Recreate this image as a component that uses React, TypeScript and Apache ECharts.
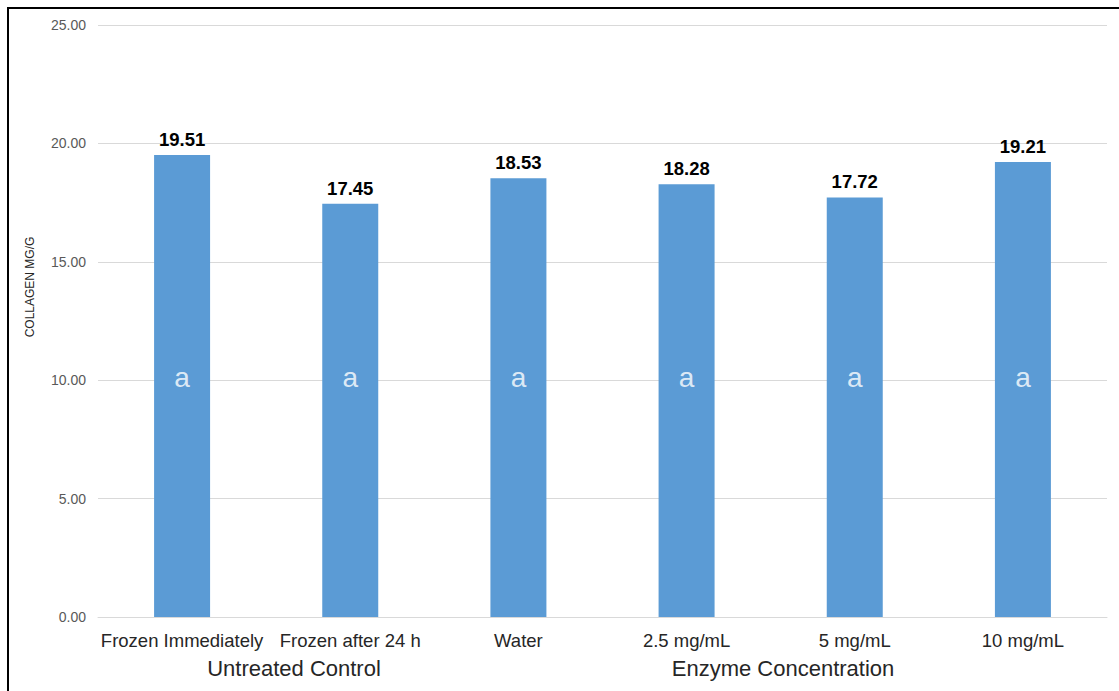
import React, { useEffect, useRef } from "react";
import * as echarts from "echarts";

const categories = [
  "Frozen Immediately",
  "Frozen after 24 h",
  "Water",
  "2.5 mg/mL",
  "5 mg/mL",
  "10 mg/mL",
];
const values = [19.51, 17.45, 18.53, 18.28, 17.72, 19.21];
const letters = ["a", "a", "a", "a", "a", "a"];
const letterLevel = [10.1, 10.1, 10.1, 10.1, 10.1, 10.1];
const groupLabels = ["Untreated Control", "Enzyme Concentration"];
const yTicks = { min: 0, max: 25, interval: 5 };
const yAxisTitle = "COLLAGEN MG/G";

const FONT = "'Liberation Sans', Arial, Helvetica, sans-serif";

export default function App() {
  const ref = useRef<HTMLDivElement>(null);

  useEffect(() => {
    if (!ref.current) return;
    const chart = echarts.init(ref.current, undefined, { renderer: "svg" });
    chart.setOption({
      animation: false,
      backgroundColor: "#ffffff",
      textStyle: { fontFamily: FONT },
      grid: { left: 89, right: 12, top: 16, bottom: 74, containLabel: false },
      xAxis: {
        type: "category",
        data: categories,
        axisLine: { show: true, lineStyle: { color: "#D9D9D9", width: 1 } },
        axisTick: { show: false },
        axisLabel: {
          color: "#262626",
          fontSize: 18.5,
          fontFamily: FONT,
          margin: 14,
          interval: 0,
        },
      },
      yAxis: {
        type: "value",
        min: yTicks.min,
        max: yTicks.max,
        interval: yTicks.interval,
        axisLine: { show: false },
        axisTick: { show: false },
        splitLine: { lineStyle: { color: "#D9D9D9", width: 1 } },
        axisLabel: {
          color: "#595959",
          fontSize: 14,
          fontFamily: FONT,
          margin: 12,
          formatter: (v: number) => v.toFixed(2),
        },
      },
      series: [
        {
          type: "bar",
          data: values,
          barWidth: "33.3%",
          itemStyle: { color: "#5B9BD5" },
          label: {
            show: true,
            position: "top",
            distance: 6,
            color: "#000000",
            fontWeight: "bold",
            fontSize: 18.5,
            fontFamily: FONT,
            formatter: (p: any) => Number(p.value).toFixed(2),
          },
        },
        {
          type: "scatter",
          data: letterLevel,
          symbolSize: 1,
          itemStyle: { color: "rgba(0,0,0,0)" },
          z: 5,
          label: {
            show: true,
            position: "inside",
            color: "#ffffff",
            fontSize: 28,
            fontFamily: FONT,
            formatter: (p: any) => letters[p.dataIndex],
          },
          silent: true,
        },
      ],
      graphic: [
        {
          type: "text",
          x: 21,
          y: 278,
          rotation: Math.PI / 2,
          style: {
            text: yAxisTitle,
            fontSize: 12,
            fontFamily: FONT,
            fill: "#262626",
            align: "center",
            verticalAlign: "middle",
          },
        },
        {
          type: "text",
          x: 285,
          y: 659,
          style: {
            text: groupLabels[0],
            fontSize: 22,
            fontFamily: FONT,
            fill: "#262626",
            align: "center",
            verticalAlign: "middle",
          },
        },
        {
          type: "text",
          x: 774,
          y: 659,
          style: {
            text: groupLabels[1],
            fontSize: 22,
            fontFamily: FONT,
            fill: "#262626",
            align: "center",
            verticalAlign: "middle",
          },
        },
      ],
    });
    return () => chart.dispose();
  }, []);

  return (
    <div
      style={{
        position: "absolute",
        left: 7,
        top: 7,
        width: 1112,
        height: 684,
        boxSizing: "border-box",
        borderLeft: "2px solid #000",
        borderTop: "2px solid #000",
        background: "#fff",
      }}
    >
      <div ref={ref} style={{ width: 1110, height: 682 }} />
    </div>
  );
}
